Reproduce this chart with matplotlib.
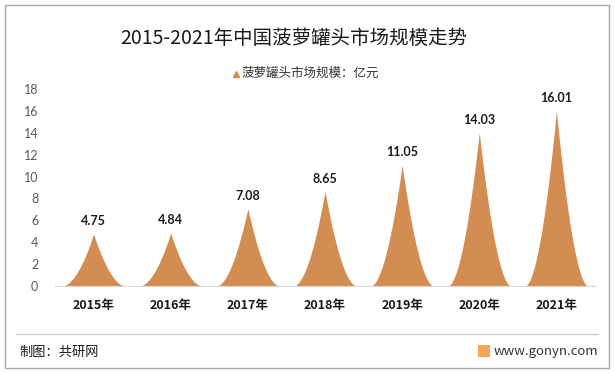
import numpy as np
import matplotlib.pyplot as plt
from matplotlib.patches import Rectangle
from matplotlib.lines import Line2D

plt.rcParams['font.family'] = ['Lato', 'Noto Sans CJK SC', 'DejaVu Sans']

# data
years = ['2015年', '2016年', '2017年', '2018年', '2019年', '2020年', '2021年']
values = [4.75, 4.84, 7.08, 8.65, 11.05, 14.03, 16.01]
yticks = [0, 2, 4, 6, 8, 10, 12, 14, 16, 18]

orange = '#D38D52'
W, H = 615, 373
fig = plt.figure(figsize=(W / 100, H / 100), dpi=100)


def fx(px):
    return px / W


def fy(py):
    return 1 - py / H


# outer frame
fig.add_artist(Rectangle((fx(4.5), fy(368)), fx(604), fy(4.5) - fy(368),
                         transform=fig.transFigure, fill=False, edgecolor='#A6A6A6', lw=1))

ax = fig.add_axes([fx(55), fy(286), fx(540), fy(89) - fy(286)])
ax.set_xlim(-0.5, len(years) - 0.5)
ax.set_ylim(0, 18)

# spiky "cone" bars
half = 0.41
t = np.linspace(-half, half, 401)
for i, v in enumerate(values):
    shape = v * (1 - np.abs(t) / half) ** 1.85
    ax.fill_between(i + t, 0, shape, color=orange, lw=0)
    ax.text(i, v + 0.6, f'{v:.2f}', ha='center', va='bottom', fontsize=9,
            fontweight='bold', color='#1a1a1a')

for s in ['left', 'right', 'top']:
    ax.spines[s].set_visible(False)
ax.spines['bottom'].set_color('#D9D9D9')
ax.set_yticks(yticks)
ax.set_yticklabels([str(y) for y in yticks], fontsize=9, color='#595959')
ax.tick_params(axis='y', length=0, pad=12)
ax.set_xticks(range(len(years)))
ax.set_xticklabels(years, fontsize=9, fontweight='bold', color='#1a1a1a',
                   family=['Noto Sans CJK SC'])
ax.tick_params(axis='x', length=0, pad=9)

# title and legend
fig.text(fx(294), fy(38), '2015-2021年中国菠萝罐头市场规模走势', ha='center', va='center',
         fontsize=14, color='#1a1a1a', family=['Noto Sans CJK SC'])
fig.add_artist(Line2D([fx(236)], [fy(74)], marker='^', markersize=5, color=orange,
                      transform=fig.transFigure))
fig.text(fx(242), fy(73), '菠萝罐头市场规模：亿元', ha='left', va='center',
         fontsize=9, color='#333333', family=['Noto Sans CJK SC'])

# footer
fig.add_artist(Line2D([fx(16), fx(598)], [fy(334), fy(334)], color='#D0D0D0', lw=1,
                      transform=fig.transFigure))
fig.text(fx(19), fy(352), '制图：共研网', ha='left', va='center', fontsize=9.5,
         color='#1a1a1a', family=['Noto Sans CJK SC'])
fig.add_artist(Rectangle((fx(478), fy(357)), fx(12), fy(345) - fy(357),
                         transform=fig.transFigure, color='#F5A65B', lw=0))
fig.text(fx(494), fy(351), 'www.gonyn.com', ha='left', va='center', fontsize=9.5,
         color='#333333', family=['Noto Sans CJK SC'])

fig.savefig('out.png', dpi=100)
